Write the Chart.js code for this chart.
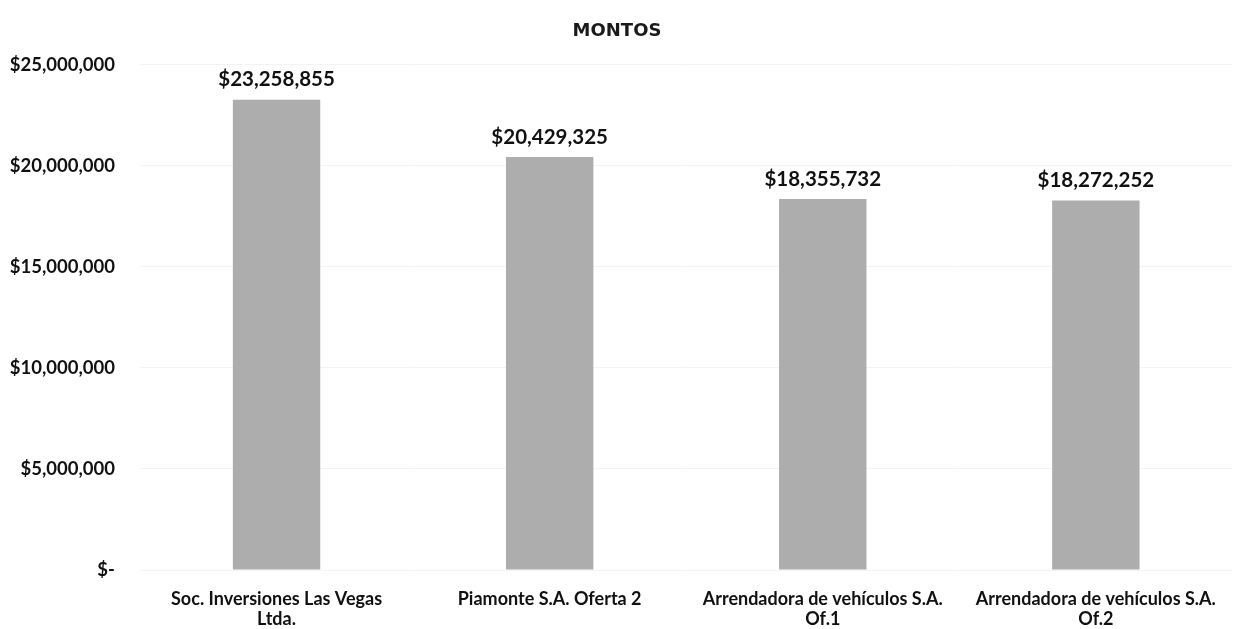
<!DOCTYPE html>
<html lang="es">
<head>
  <meta charset="UTF-8">
  <title>Montos</title>
  <script src="https://cdn.jsdelivr.net/npm/chart.js"></script>
  <style>
    html, body { margin: 0; padding: 0; background: #fff; }
    #wrap { width: 1235px; height: 629px; }
  </style>
</head>
<body>
  <div id="wrap"><canvas id="chart"></canvas></div>

  <script>
    // Datos
    const categories = [
      ['Soc. Inversiones Las Vegas', 'Ltda.'],
      'Piamonte S.A. Oferta 2',
      ['Arrendadora de vehículos S.A.', 'Of.1'],
      ['Arrendadora de vehículos S.A.', 'Of.2']
    ];
    const montos = [23258855, 20429325, 18355732, 18272252];
    const yTicks = [0, 5000000, 10000000, 15000000, 20000000, 25000000];

    const fmt = v => v === 0 ? '$-' : '$' + v.toLocaleString('en-US');

    // Etiquetas de valor sobre cada barra
    const valueLabels = {
      id: 'valueLabels',
      afterDatasetsDraw(chart) {
        const ctx = chart.ctx;
        const meta = chart.getDatasetMeta(0);
        ctx.save();
        ctx.font = 'bold 20.5px Lato';
        ctx.fillStyle = '#111';
        ctx.textAlign = 'center';
        ctx.textBaseline = 'middle';
        meta.data.forEach((bar, i) => {
          ctx.fillText(fmt(montos[i]), bar.x, bar.y - 20);
        });
        ctx.restore();
      }
    };

    new Chart(document.getElementById('chart'), {
      type: 'bar',
      data: {
        labels: categories,
        datasets: [{
          label: 'Montos',
          data: montos,
          backgroundColor: '#adadad',
          borderWidth: 0,
          categoryPercentage: 1,
          barPercentage: 0.32
        }]
      },
      options: {
        responsive: true,
        maintainAspectRatio: false,
        animation: false,
        layout: { padding: { left: 0, right: 1, top: 0, bottom: 0 } },
        plugins: {
          legend: { display: false },
          tooltip: { enabled: false },
          title: {
            display: true,
            text: 'MONTOS',
            color: '#1a1a1a',
            font: { family: 'DejaVu Sans', size: 18, weight: '600' },
            padding: { top: 21, bottom: 22 }
          }
        },
        scales: {
          x: {
            afterFit(scale) { scale.height = 59; },
            grid: { display: false, drawTicks: false },
            border: { display: false },
            ticks: {
              color: '#111',
              padding: 19,
              maxRotation: 0,
              autoSkip: false,
              font: { family: 'Lato', size: 18, weight: 'bold', lineHeight: 1.12 }
            }
          },
          y: {
            min: 0,
            max: 25000000,
            afterFit(scale) { scale.width = 140; },
            afterBuildTicks(scale) { scale.ticks = yTicks.map(v => ({ value: v })); },
            grid: { color: '#f3f3f3', drawTicks: false },
            border: { display: false },
            ticks: {
              color: '#111',
              padding: 25,
              callback: v => fmt(v),
              font: { family: 'Lato', size: 18.5, weight: 'bold' }
            }
          }
        }
      },
      plugins: [valueLabels]
    });
  </script>
</body>
</html>
